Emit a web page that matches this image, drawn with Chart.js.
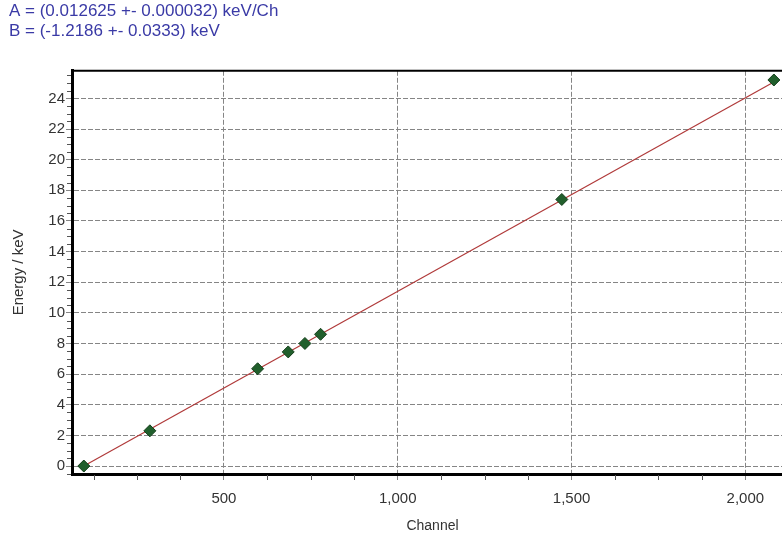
<!DOCTYPE html>
<html><head><meta charset="utf-8">
<script src="https://cdn.jsdelivr.net/npm/chart.js@4.4.0/dist/chart.umd.min.js"></script>
<style>
html,body{margin:0;padding:0;background:#fff;overflow:hidden;width:782px;height:538px;}
#wrap{position:relative;width:800px;height:538px;}
</style></head><body>
<div id="wrap"><canvas id="c" width="800" height="538"></canvas></div>
<script>
const headerLines = ["A = (0.012625 +- 0.000032) keV/Ch", "B = (-1.2186 +- 0.0333) keV"];
const xTitle = "Channel";
const yTitle = "Energy / keV";
const channels = [97, 287, 597, 685, 733, 778, 1472, 2082];
const energies = [0.0, 2.3, 6.35, 7.45, 8.0, 8.6, 17.4, 25.2];
const fitChannels = [97, 2082];
const fitEnergies = [0.0, 25.07];
const xTickValues = [500, 1000, 1500, 2000];
const yTickValues = [0, 2, 4, 6, 8, 10, 12, 14, 16, 18, 20, 22, 24];
const xMinorStep = 125;
const yMinorStep = 0.5;

const FONT = "'Liberation Sans', Arial, sans-serif";

const extras = {
  id: 'extras',
  afterDraw(chart) {
    const {ctx, chartArea: a, scales: {x, y}} = chart;
    ctx.save();
    ctx.strokeStyle = '#555';
    ctx.lineWidth = 1;
    ctx.beginPath();
    for (let v = Math.ceil(x.min / xMinorStep) * xMinorStep; v <= x.max; v += xMinorStep) {
      if (xTickValues.includes(v)) continue;
      const px = Math.round(x.getPixelForValue(v)) + 0.5;
      ctx.moveTo(px, a.bottom + 1);
      ctx.lineTo(px, a.bottom + 6);
    }
    for (let v = Math.ceil(y.min / yMinorStep) * yMinorStep; v <= y.max; v += yMinorStep) {
      if (yTickValues.includes(v)) continue;
      const py = Math.round(y.getPixelForValue(v)) + 0.5;
      ctx.moveTo(a.left - 5, py);
      ctx.lineTo(a.left - 1, py);
    }
    ctx.stroke();
    ctx.strokeStyle = '#000';
    ctx.lineWidth = 2;
    ctx.beginPath();
    ctx.moveTo(a.left - 1, a.top);
    ctx.lineTo(a.right, a.top);
    ctx.stroke();
    ctx.restore();
  }
};

new Chart(document.getElementById('c'), {
  type: 'scatter',
  data: {
    datasets: [
      {
        label: 'Peaks',
        data: channels.map((c, i) => ({x: c, y: energies[i]})),
        pointStyle: 'rectRot',
        pointRadius: 6,
        pointBackgroundColor: '#215f2c',
        pointBorderColor: '#143f1b',
        pointBorderWidth: 1,
        showLine: false
      },
      {
        label: 'Fit',
        data: fitChannels.map((c, i) => ({x: c, y: fitEnergies[i]})),
        showLine: true,
        borderColor: '#b03a3a',
        borderWidth: 1.2,
        pointRadius: 0,
        fill: false
      }
    ]
  },
  options: {
    responsive: false,
    animation: false,
    devicePixelRatio: 1,
    layout: {padding: {left: 9, right: 0, top: 0, bottom: 0}},
    plugins: {
      legend: {display: false},
      tooltip: {enabled: false},
      title: {
        display: true,
        text: headerLines,
        align: 'start',
        color: '#3a3aa6',
        font: {family: FONT, size: 17, weight: 'normal', lineHeight: 1.2},
        padding: {top: 1, bottom: 29}
      }
    },
    scales: {
      x: {
        type: 'linear',
        min: 63, max: 2137,
        afterBuildTicks: s => { s.ticks = xTickValues.map(v => ({value: v})); },
        afterFit: s => { s.height = 64; },
        ticks: {
          color: '#333',
          font: {family: FONT, size: 15},
          padding: 8,
          maxRotation: 0,
          callback: v => Number(v).toLocaleString('en-US')
        },
        grid: {color: '#858585', lineWidth: 1, tickLength: 8, tickColor: '#858585', tickBorderDash: [4, 2]},
        border: {display: true, color: '#000', width: 3, dash: [5, 2]},
        title: {display: true, text: xTitle, color: '#333', font: {family: FONT, size: 14}, padding: {top: 0, bottom: 3}}
      },
      y: {
        type: 'linear',
        min: -0.52, max: 25.8,
        afterBuildTicks: s => { s.ticks = yTickValues.map(v => ({value: v})); },
        afterFit: s => { s.width = 63; },
        ticks: {
          color: '#333',
          font: {family: FONT, size: 15},
          padding: 1
        },
        grid: {color: '#858585', lineWidth: 1, tickLength: 6, tickColor: '#858585'},
        border: {display: true, color: '#000', width: 3, dash: [5, 2]},
        title: {display: true, text: yTitle, color: '#333', font: {family: FONT, size: 15}, padding: {top: 1, bottom: 0}}
      }
    }
  },
  plugins: [extras]
});
</script>
</body></html>
